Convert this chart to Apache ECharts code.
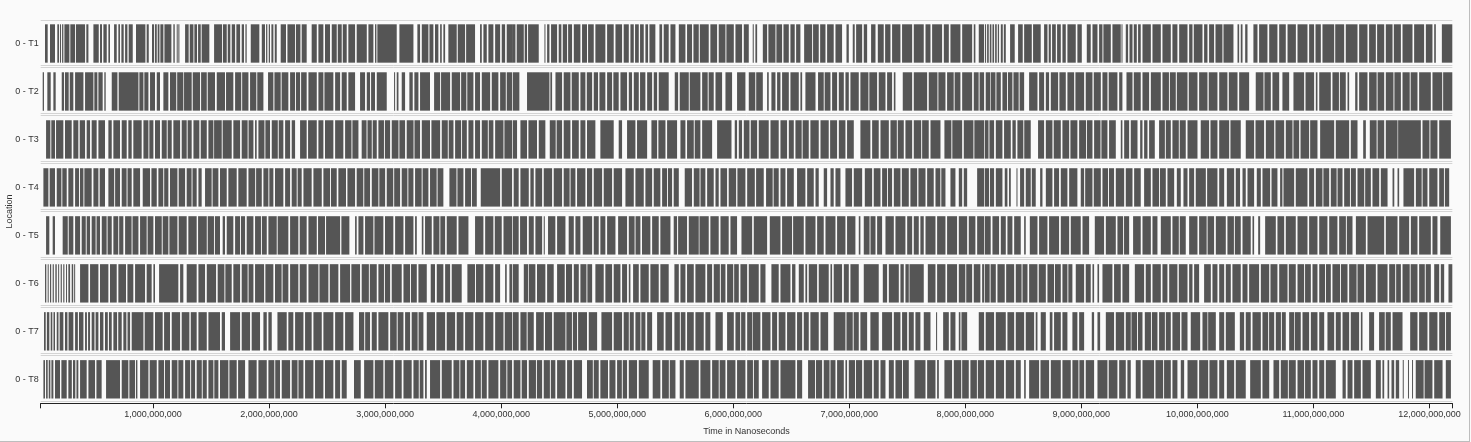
<!DOCTYPE html>
<html><head><meta charset="utf-8">
<script src="https://cdn.jsdelivr.net/npm/echarts@6.0.0/dist/echarts.min.js"></script>
<style>
html,body{margin:0;padding:0;background:#fafafa;}
#chart{width:1470px;height:442px;box-sizing:border-box;border-right:1px solid #bdbdbd;border-bottom:1px solid #bdbdbd;background:#fafafa;}
</style></head><body><div id="chart"></div>
<script>
// Row labels (top to bottom)
const rows = ['0 - T1','0 - T2','0 - T3','0 - T4','0 - T5','0 - T6','0 - T7','0 - T8'];
// Axis tick values (ns)
const tickValues = [1000000000,2000000000,3000000000,4000000000,5000000000,6000000000,7000000000,8000000000,9000000000,10000000000,11000000000,12000000000];
const axisMin = 31750000;
const axisMax = 12197000000;
// Busy intervals per row, [start, end] in millions of nanoseconds
const T1 = [[69,92],[112,155],[175,190],[198,207],[216,227],[236,279],[287,328],[336,414],[425,443],[486,532],[543,560],[572,601],[615,629],[664,687],[701,715],[727,747],[759,779],[790,825],[853,934],[945,963],[991,1009],[1017,1032],[1040,1055],[1063,1089],[1098,1158],[1175,1187],[1204,1210],[1218,1227],[1276,1307],[1316,1348],[1356,1379],[1388,1411],[1419,1485],[1526,1595],[1603,1635],[1644,1666],[1678,1707],[1718,1750],[1764,1784],[1796,1807],[1842,1916],[1937,1965],[1974,1985],[1997,2008],[2020,2037],[2049,2066],[2100,2146],[2158,2224],[2232,2270],[2281,2324],[2367,2411],[2425,2468],[2482,2525],[2540,2583],[2592,2626],[2635,2669],[2683,2741],[2755,2842],[2856,2899],[2913,2925],[2933,3100],[3123,3244],[3278,3301],[3316,3373],[3382,3416],[3430,3459],[3474,3488],[3502,3517],[3545,3617],[3626,3689],[3698,3775],[3818,3833],[3847,3876],[3890,3933],[3948,3991],[4005,4034],[4048,4094],
[4094,4123],[4134,4195],[4203,4223],[4232,4324],[4373,4381],[4396,4416],[4430,4482],[4496,4519],[4531,4568],[4577,4611],[4626,4683],[4697,4740],[4749,4798],[4812,4898],[4913,4970],[4985,5042],[5056,5100],[5114,5143],[5154,5186],[5197,5229],[5243,5266],[5278,5329],[5364,5387],[5401,5444],[5459,5502],[5531,5588],[5602,5645],[5657,5703],[5712,5789],[5803,5861],[5875,5933],[5941,6005],[6019,6076],[6091,6134],[6168,6177],[6191,6206],[6255,6292],[6303,6364],[6372,6421],[6433,6479],[6493,6530],[6542,6579],[6611,6680],[6688,6737],[6749,6795],[6809,6866],[6881,6938],[6976,6996],[7030,7047],[7059,7111],[7125,7154],[7188,7226],[7246,7297],[7309,7355],[7369,7441],[7455,7542],[7556,7642],[7657,7700],[7714,7800],[7815,7858],[7872,7958],[7973,8059],[8073,8087],[8116,8162],
[8170,8179],[8188,8202],[8211,8225],[8234,8248],[8257,8271],[8280,8291],[8306,8323],[8332,8349],[8386,8426],[8455,8495],[8507,8573],[8584,8650],[8679,8708],[8719,8737],[8748,8780],[8791,8823],[8837,8866],[8880,8952],[8966,9004],[9047,9081],[9096,9139],[9153,9182],[9190,9254],[9268,9340],[9346,9354],[9383,9403],[9415,9441],[9452,9478],[9489,9512],[9527,9599],[9613,9685],[9699,9771],[9785,9828],[9843,9915],[9929,9958],[9969,10044],[10058,10087],[10101,10144],[10156,10216],[10225,10311],[10346,10360],[10374,10389],[10412,10432],[10483,10518],[10532,10604],[10619,10690],[10705,10762],[10777,10849],[10863,10949],[10963,11006],[11018,11064],[11078,11179],[11188,11265],[11279,11380],[11394,11466],[11480,11538],[11549,11610],[11624,11682],[11693,11754],[11768,11854],[11868,11954],[11969,12026],[12041,12055],[12107,12197]];
const T2 = [[49,60],[89,118],[141,161],[213,233],[241,273],[282,313],[328,400],[414,486],[494,520],[529,566],[580,592],[644,693],[704,874],[882,917],[925,960],[974,1017],[1032,1060],[1089,1132],[1146,1200],[1208,1261],[1267,1333],[1342,1405],[1414,1463],[1471,1534],[1549,1620],[1629,1692],[1707,1760],[1768,1822],[1836,1890],[1898,1951],[1991,2037],[2046,2100],[2108,2166],[2181,2224],[2232,2267],[2276,2324],[2339,2411],[2425,2468],[2477,2554],[2569,2612],[2626,2669],[2683,2741],[2784,2827],[2842,2870],[2879,2913],[2928,3014],[3077,3086],[3100,3115],[3143,3172],[3209,3238],[3252,3287],[3301,3387],[3422,3474],[3482,3560],[3574,3646],[3655,3700],[3708,3761],[3775,3818],[3833,3905],[3919,3976],[3991,4040],[4048,4094],
[4100,4157],[4223,4416],[4424,4439],[4468,4525],[4539,4597],[4608,4669],[4683,4726],[4738,4784],[4798,4835],[4847,4898],[4913,4956],[4967,5013],[5028,5085],[5100,5128],[5143,5186],[5197,5243],[5258,5301],[5315,5344],[5358,5444],[5496,5525],[5539,5617],[5625,5717],[5732,5780],[5788,5832],[5847,5904],[5933,5990],[6033,6105],[6134,6190],[6198,6255],[6292,6306],[6329,6364],[6378,6407],[6421,6479],[6493,6565],[6579,6594],[6622,6709],[6731,6780],[6788,6838],[6852,6895],[6910,6953],[6967,6996],[7010,7082],[7096,7165],[7173,7240],[7254,7312],[7326,7369],[7384,7398],[7461,7542],[7556,7671],[7685,7760],[7768,7829],[7843,7900],[7908,7958],[7973,8059],[8073,8115],[8123,8162],
[8176,8214],[8219,8260],[8268,8306],[8320,8360],[8368,8406],[8415,8460],[8468,8507],[8550,8622],[8636,8679],[8694,8722],[8737,8800],[8811,8866],[8880,8938],[8949,9024],[9038,9096],[9107,9168],[9182,9225],[9236,9311],[9326,9354],[9389,9441],[9452,9512],[9527,9584],[9599,9685],[9699,9755],[9763,9814],[9823,9915],[9926,10001],[10015,10087],[10098,10173],[10188,10259],[10271,10346],[10360,10446],[10503,10570],[10578,10633],[10647,10705],[10733,10791],[10828,10920],[10932,11006],[11021,11035],[11050,11150],[11164,11220],[11228,11279],[11294,11308],[11360,11380],[11394,11466],[11480,11545],[11553,11610],[11624,11690],[11698,11754],[11768,11830],[11838,11897],[11911,12012],[12026,12110],[12118,12197]];
const T3 = [[78,115],[123,155],[164,227],[241,299],[313,356],[368,414],[428,457],[471,514],[529,586],[615,644],[658,715],[730,773],[787,816],[830,902],[917,960],[968,1003],[1017,1060],[1075,1118],[1126,1161],[1175,1233],[1247,1290],[1298,1333],[1348,1399],[1411,1463],[1477,1520],[1526,1592],[1600,1678],[1692,1750],[1764,1815],[1823,1865],[1879,1893],[1908,1960],[1968,2008],[2023,2075],[2083,2123],[2138,2181],[2195,2224],[2267,2324],[2336,2411],[2425,2468],[2482,2554],[2569,2640],[2655,2710],[2718,2770],[2798,2840],[2848,2885],[2893,2928],[2942,2990],[2998,3043],[3057,3115],[3123,3172],[3186,3245],[3253,3301],[3316,3387],[3399,3474],[3488,3540],[3548,3589],[3603,3655],[3663,3704],[3718,3761],[3775,3818],[3833,3885],[3893,3933],[3948,4020],[4028,4094],
[4100,4137],[4166,4223],[4235,4309],[4324,4381],[4419,4470],[4478,4525],[4539,4597],[4611,4669],[4683,4726],[4740,4812],[4855,4970],[5013,5042],[5085,5157],[5171,5258],[5295,5344],[5355,5416],[5430,5516],[5545,5588],[5602,5660],[5668,5717],[5732,5818],[5861,5985],[6013,6033],[6048,6076],[6091,6140],[6151,6206],[6220,6306],[6321,6392],[6407,6464],[6479,6522],[6536,6590],[6598,6651],[6665,6737],[6752,6823],[6835,6895],[6910,6967],[6981,7039],[7096,7182],[7197,7254],[7269,7341],[7355,7410],[7418,7470],[7484,7542],[7556,7620],[7628,7685],[7700,7786],[7820,7880],[7888,7973],[7987,8070],[8078,8162],
[8168,8200],[8208,8248],[8263,8320],[8334,8392],[8406,8435],[8449,8500],[8508,8564],[8627,8679],[8694,8751],[8762,8823],[8837,8895],[8906,8966],[8981,9040],[9048,9096],[9110,9165],[9173,9225],[9239,9297],[9340,9354],[9369,9412],[9426,9484],[9507,9527],[9541,9570],[9584,9633],[9670,9720],[9728,9771],[9785,9840],[9848,9900],[9915,10001],[10029,10101],[10113,10173],[10188,10274],[10285,10374],[10417,10489],[10501,10575],[10590,10662],[10673,10748],[10762,10820],[10828,10877],[10889,10963],[10972,11035],[11058,11179],[11193,11308],[11322,11380],[11429,11452],[11486,11545],[11553,11610],[11624,11725],[11730,11926],[11940,12000],[12008,12069],[12084,12185]];
const T4 = [[55,98],[109,155],[170,210],[218,256],[270,313],[328,362],[370,400],[408,471],[486,529],[540,586],[615,665],[673,715],[730,772],[780,816],[830,888],[911,974],[986,1032],[1046,1088],[1096,1132],[1146,1210],[1221,1276],[1290,1332],[1340,1376],[1391,1419],[1448,1505],[1513,1563],[1577,1635],[1649,1721],[1735,1807],[1822,1880],[1888,1937],[1951,1994],[2002,2037],[2051,2123],[2138,2181],[2195,2238],[2246,2281],[2296,2367],[2382,2454],[2468,2525],[2533,2583],[2597,2663],[2675,2741],[2755,2812],[2820,2870],[2885,2942],[2950,3000],[3014,3070],[3078,3129],[3143,3192],[3200,3244],[3258,3315],[3323,3373],[3387,3444],[3452,3502],[3554,3615],[3623,3675],[3689,3740],[3748,3790],[3824,3991],[4005,4094],
[4108,4151],[4166,4238],[4252,4281],[4295,4353],[4367,4439],[4453,4525],[4539,4590],[4598,4640],[4654,4726],[4740,4784],[4798,4870],[4884,4956],[4970,5042],[5071,5143],[5157,5229],[5243,5301],[5315,5372],[5387,5430],[5438,5473],[5487,5531],[5582,5645],[5660,5710],[5718,5760],[5775,5832],[5847,5875],[5890,5947],[5961,6025],[6036,6105],[6120,6186],[6197,6263],[6283,6340],[6348,6392],[6407,6450],[6464,6522],[6550,6622],[6637,6694],[6709,6737],[6780,6809],[6838,6866],[6881,6924],[6967,7024],[7039,7111],[7134,7197],[7211,7269],[7283,7325],[7333,7369],[7384,7441],[7453,7513],[7527,7585],[7596,7657],[7671,7728],[7743,7785],[7793,7829],[7872,7915],[7944,7973],[7987,8016],[8102,8162],
[8168,8205],[8213,8248],[8263,8320],[8340,8363],[8377,8392],[8441,8449],[8472,8507],[8521,8564],[8573,8607],[8645,8665],[8694,8751],[8765,8808],[8823,8880],[8895,8966],[8995,9024],[9033,9096],[9107,9168],[9182,9230],[9238,9282],[9297,9369],[9383,9441],[9455,9512],[9541,9599],[9613,9670],[9678,9728],[9742,9800],[9823,9857],[9880,9915],[9929,9972],[9986,10073],[10084,10173],[10188,10231],[10254,10317],[10331,10368],[10389,10417],[10432,10489],[10512,10547],[10561,10627],[10639,10690],[10713,10733],[10742,10834],[10848,10949],[10963,11006],[11021,11078],[11086,11136],[11150,11200],[11208,11251],[11265,11315],[11323,11366],[11380,11438],[11446,11495],[11509,11567],[11581,11639],[11682,11697],[11725,11739],[11776,11868],[11883,11933],[11941,11983],[11998,12069],[12084,12125],[12133,12170]];
const T5 = [[78,106],[135,155],[221,265],[273,313],[328,371],[385,420],[428,457],[471,505],[513,543],[558,600],[608,644],[658,700],[708,744],[759,815],[823,874],[888,945],[953,1003],[1017,1075],[1083,1132],[1141,1210],[1221,1290],[1304,1376],[1388,1463],[1471,1525],[1533,1577],[1600,1620],[1635,1692],[1707,1750],[1758,1793],[1807,1865],[1879,1930],[1938,1980],[1994,2066],[2074,2166],[2181,2252],[2264,2324],[2339,2411],[2422,2482],[2491,2612],[2623,2692],[2741,2755],[2770,2813],[2827,2899],[2908,2985],[2999,3071],[3086,3158],[3172,3244],[3258,3273],[3316,3330],[3344,3402],[3416,3468],[3476,3517],[3531,3617],[3632,3718],[3775,3847],[3862,3933],[3945,4005],[4020,4094],
[4100,4151],[4163,4223],[4238,4281],[4295,4353],[4367,4376],[4404,4467],[4482,4554],[4582,4626],[4640,4683],[4703,4784],[4798,4841],[4855,4898],[4913,4985],[5008,5085],[5100,5150],[5158,5200],[5214,5286],[5301,5358],[5372,5459],[5487,5516],[5525,5602],[5617,5703],[5709,5789],[5803,5875],[5890,5961],[5976,6033],[6071,6163],[6177,6292],[6315,6407],[6421,6507],[6516,6608],[6622,6709],[6723,6780],[6795,6881],[6895,6967],[6981,7053],[7082,7096],[7125,7175],[7183,7226],[7240,7283],[7312,7384],[7398,7484],[7499,7542],[7556,7599],[7613,7642],[7657,7743],[7757,7829],[7843,7929],[7944,8016],[8030,8087],[8102,8162],
[8168,8219],[8234,8291],[8306,8349],[8363,8406],[8421,8478],[8507,8521],[8556,8622],[8636,8708],[8722,8808],[8823,8895],[8909,8995],[9010,9067],[9116,9196],[9211,9297],[9311,9360],[9368,9412],[9446,9512],[9527,9599],[9613,9656],[9685,9771],[9785,9840],[9848,9900],[9929,10001],[10015,10080],[10088,10144],[10159,10245],[10259,10315],[10323,10374],[10389,10460],[10475,10489],[10524,10541],[10584,10676],[10690,10748],[10762,10848],[10863,10949],[10963,11035],[11050,11121],[11136,11207],[11222,11280],[11288,11337],[11366,11452],[11466,11610],[11624,11725],[11739,11825],[11840,11897],[11911,12012],[12026,12069],[12093,12185]];
const T6 = [[69,80],[92,100],[112,122],[135,145],[158,170],[182,190],[204,214],[226,236],[250,258],[270,285],[299,312],[320,328],[371,443],[457,529],[543,615],[629,687],[701,767],[779,830],[845,931],[945,988],[1003,1017],[1052,1218],[1233,1261],[1290,1376],[1391,1448],[1463,1543],[1557,1615],[1623,1678],[1692,1750],[1764,1815],[1823,1865],[1879,1957],[1968,2037],[2051,2108],[2116,2166],[2181,2252],[2264,2324],[2339,2425],[2434,2511],[2523,2597],[2612,2698],[2709,2784],[2798,2860],[2868,2928],[2942,2990],[2998,3043],[3057,3143],[3158,3215],[3223,3273],[3287,3359],[3393,3430],[3445,3502],[3517,3560],[3574,3660],[3709,3775],[3783,3847],[3862,3933],[3948,3991],[4034,4048],[4071,4094],
[4100,4151],[4195,4232],[4238,4295],[4309,4381],[4396,4453],[4482,4548],[4559,4611],[4626,4669],[4683,4735],[4743,4784],[4812,4884],[4898,4956],[4970,5028],[5042,5085],[5100,5114],[5137,5186],[5200,5272],[5286,5358],[5372,5444],[5493,5531],[5545,5588],[5602,5660],[5674,5760],[5775,5818],[5832,5885],[5893,5933],[5947,6000],[6008,6048],[6062,6120],[6134,6220],[6234,6278],[6329,6392],[6407,6493],[6507,6536],[6565,6608],[6622,6637],[6651,6723],[6737,6823],[6838,6852],[6866,6938],[6953,6996],[7010,7082],[7125,7254],[7289,7326],[7341,7427],[7441,7470],[7484,7513],[7519,7642],[7677,7743],[7757,7829],[7843,7929],[7944,8000],[8008,8059],[8073,8130],[8145,8162],
[8168,8210],[8218,8263],[8277,8340],[8352,8421],[8435,8485],[8493,8536],[8550,8622],[8633,8694],[8708,8765],[8773,8823],[8837,8880],[8888,8923],[8952,9024],[9038,9081],[9096,9110],[9139,9153],[9182,9268],[9282,9340],[9354,9412],[9461,9541],[9555,9599],[9613,9685],[9699,9742],[9757,9828],[9840,9915],[9929,9958],[9972,10015],[10058,10116],[10130,10173],[10188,10231],[10245,10288],[10302,10374],[10389,10432],[10446,10532],[10547,10619],[10630,10690],[10705,10777],[10788,10848],[10863,10920],[10928,10978],[10992,11035],[11050,11100],[11108,11150],[11164,11230],[11238,11294],[11308,11372],[11380,11437],[11452,11538],[11552,11639],[11653,11705],[11713,11754],[11768,11830],[11838,11897],[11911,11960],[11968,12012],[12041,12084],[12098,12127],[12164,12197]];
const T7 = [[60,75],[85,106],[118,132],[142,155],[170,185],[195,227],[241,262],[272,313],[328,352],[362,400],[414,430],[440,457],[471,495],[505,529],[543,572],[586,610],[620,644],[658,690],[700,730],[744,770],[780,802],[816,917],[928,1003],[1017,1083],[1095,1146],[1161,1233],[1247,1313],[1325,1376],[1391,1463],[1477,1577],[1592,1620],[1664,1750],[1764,1836],[1850,1922],[1951,1980],[1994,2023],[2072,2152],[2166,2209],[2224,2296],[2310,2367],[2382,2454],[2468,2554],[2569,2640],[2655,2727],[2775,2820],[2828,2870],[2885,2928],[2942,3028],[3043,3100],[3108,3158],[3172,3215],[3229,3280],[3288,3330],[3359,3430],[3442,3517],[3531,3603],[3617,3675],[3689,3761],[3775,3847],[3862,3933],[3948,4020],[4031,4094],
[4100,4151],[4166,4220],[4228,4281],[4301,4367],[4378,4439],[4453,4554],[4562,4610],[4618,4654],[4663,4740],[4755,4827],[4864,4956],[4970,5042],[5056,5100],[5108,5143],[5157,5200],[5208,5243],[5258,5301],[5344,5401],[5416,5473],[5493,5540],[5548,5588],[5602,5660],[5674,5746],[5760,5803],[5847,5910],[5947,6005],[6019,6060],[6068,6105],[6120,6163],[6168,6234],[6249,6321],[6335,6378],[6392,6450],[6464,6536],[6550,6594],[6608,6651],[6665,6737],[6752,6818],[6866,6967],[6976,7030],[7038,7082],[7096,7154],[7182,7254],[7283,7369],[7384,7441],[7455,7499],[7513,7556],[7570,7613],[7642,7700],[7748,7757],[7809,7858],[7872,7915],[7944,7958],[7967,8016],[8116,8162],
[8176,8248],[8263,8349],[8363,8421],[8435,8507],[8521,8593],[8607,8622],[8650,8694],[8728,8751],[8765,8823],[8837,8880],[8923,8966],[8981,9024],[9090,9110],[9139,9162],[9211,9282],[9297,9369],[9383,9426],[9432,9480],[9488,9527],[9547,9600],[9608,9656],[9670,9720],[9728,9771],[9785,9851],[9863,9915],[9943,10024],[10044,10087],[10093,10159],[10188,10231],[10245,10323],[10366,10403],[10417,10460],[10475,10547],[10561,10610],[10618,10662],[10676,10720],[10728,10762],[10791,10834],[10840,10891],[10906,10963],[10978,11035],[11050,11093],[11121,11179],[11193,11236],[11251,11308],[11322,11394],[11409,11423],[11480,11523],[11566,11615],[11623,11667],[11682,11768],[11834,11897],[11911,11983],[11998,12069],[12084,12135],[12143,12185]];
const T8 = [[55,69],[78,92],[101,115],[124,141],[155,198],[210,256],[270,300],[310,330],[340,356],[371,428],[443,500],[512,557],[595,715],[730,787],[796,845],[853,865],[888,960],[971,1032],[1046,1095],[1103,1146],[1161,1210],[1218,1261],[1276,1320],[1328,1362],[1376,1420],[1428,1463],[1477,1520],[1528,1563],[1577,1649],[1658,1721],[1733,1793],[1822,1893],[1908,1980],[1994,2045],[2053,2094],[2109,2181],[2195,2245],[2253,2296],[2310,2382],[2396,2468],[2482,2554],[2569,2612],[2626,2669],[2732,2790],[2819,2899],[2911,2985],[2997,3071],[3086,3143],[3158,3229],[3244,3290],[3298,3330],[3344,3359],[3387,3474],[3488,3574],[3589,3640],[3648,3689],[3704,3761],[3775,3825],[3833,3876],[3890,3976],[3991,4045],[4053,4094],
[4108,4166],[4177,4223],[4238,4300],[4308,4353],[4367,4420],[4428,4467],[4482,4554],[4568,4611],[4626,4697],[4740,4790],[4798,4841],[4855,4921],[4933,4985],[4999,5040],[5048,5085],[5100,5171],[5186,5272],[5306,5372],[5387,5445],[5453,5502],[5539,5574],[5588,5703],[5717,5803],[5818,5875],[5883,5933],[5947,6019],[6033,6105],[6120,6170],[6178,6220],[6249,6306],[6321,6392],[6407,6536],[6550,6594],[6645,6705],[6713,6766],[6780,6830],[6838,6881],[6895,6953],[6967,6981],[6996,7050],[7058,7111],[7125,7197],[7211,7254],[7269,7312],[7341,7384],[7398,7455],[7463,7513],[7562,7657],[7671,7743],[7757,7772],[7820,7886],[7901,7965],[7973,8030],[8044,8100],[8108,8162],
[8176,8248],[8263,8334],[8349,8421],[8435,8478],[8507,8521],[8550,8636],[8648,8722],[8737,8823],[8837,8909],[8923,8975],[8983,9024],[9038,9110],[9139,9225],[9236,9311],[9326,9383],[9397,9426],[9469,9512],[9527,9627],[9639,9705],[9713,9771],[9785,9828],[9857,9886],[9915,10001],[10015,10093],[10104,10173],[10188,10231],[10254,10317],[10331,10417],[10455,10547],[10561,10619],[10656,10705],[10719,10780],[10788,10848],[10863,10920],[10928,10978],[10992,11035],[11050,11093],[11107,11193],[11251,11279],[11294,11337],[11351,11409],[11423,11495],[11538,11581],[11595,11610],[11639,11653],[11673,11696],[11710,11739],[11770,11778],[11815,11823],[11850,11858],[11882,11950],[11958,12026],[12041,12113],[12141,12185]];

const rowData = [T1,T2,T3,T4,T5,T6,T7,T8];
const UNIT = 1e6;
const barData = [];
rowData.forEach((arr, i) => arr.forEach(([s, e]) => barData.push([i, s * UNIT, e * UNIT])));
const rowLineData = rows.map((r, i) => [axisMin, i]);

const chart = echarts.init(document.getElementById('chart'), null, {renderer: 'canvas'});
const FONT = 'Liberation Sans, Arial, sans-serif';

function renderBar(params, api) {
  const cat = api.value(0);
  const s = api.coord([api.value(1), cat]);
  const e = api.coord([api.value(2), cat]);
  const h = api.size([0, 1])[1] * 0.8;
  const cs = params.coordSys;
  const shape = echarts.graphic.clipRectByRect(
    {x: s[0], y: s[1] - h / 2, width: Math.max(e[0] - s[0], 1), height: h},
    {x: cs.x, y: cs.y, width: cs.width, height: cs.height});
  return shape && {type: 'rect', shape: shape, style: {fill: '#555555'}};
}
function renderRowLines(params, api) {
  const c = api.coord([api.value(0), api.value(1)]);
  const band = api.size([0, 1])[1];
  const cs = params.coordSys;
  const top = Math.round(c[1] - band / 2) + 0.5;
  const bot = Math.round(c[1] + band / 2) - 1.5;
  const st = {stroke: '#d4d4d4', lineWidth: 1};
  return {type: 'group', children: [
    {type: 'line', shape: {x1: cs.x, y1: top, x2: cs.x + cs.width, y2: top}, style: st},
    {type: 'line', shape: {x1: cs.x, y1: bot, x2: cs.x + cs.width, y2: bot}, style: st}
  ]};
}

chart.setOption({
  backgroundColor: '#fafafa',
  animation: false,
  grid: {left: 40.7, right: 16.7, top: 19.5, bottom: 37.7, containLabel: false, outerBoundsMode: 'none'},
  xAxis: {
    type: 'value', min: axisMin, max: axisMax,
    name: 'Time in Nanoseconds', nameLocation: 'middle', nameGap: 24, nameMoveOverlap: false,
    nameTextStyle: {fontFamily: FONT, fontSize: 9, color: '#333'},
    axisLine: {show: true, lineStyle: {color: '#222', width: 1}},
    axisTick: {show: true, length: 5, lineStyle: {color: '#222'}, customValues: [axisMin].concat(tickValues, [axisMax])},
    axisLabel: {show: true, customValues: tickValues, margin: 7, fontFamily: FONT, fontSize: 9, color: '#333',
      formatter: v => Number(v).toLocaleString('en-US')},
    splitLine: {show: false}
  },
  yAxis: {
    type: 'category', data: rows, inverse: true,
    name: 'Location', nameLocation: 'middle', nameGap: 27, nameRotate: 90, nameMoveOverlap: false,
    nameTextStyle: {fontFamily: FONT, fontSize: 9, color: '#333'},
    axisLine: {show: false}, axisTick: {show: false}, splitLine: {show: false},
    axisLabel: {margin: 2, fontFamily: FONT, fontSize: 9, color: '#333'}
  },
  series: [
    {type: 'custom', name: 'rows', silent: true, z: 1, renderItem: renderRowLines,
      encode: {x: 0, y: 1}, data: rowLineData},
    {type: 'custom', name: 'busy', silent: true, z: 2, progressive: 0, renderItem: renderBar,
      encode: {x: [1, 2], y: 0}, data: barData}
  ]
});
</script></body></html>
